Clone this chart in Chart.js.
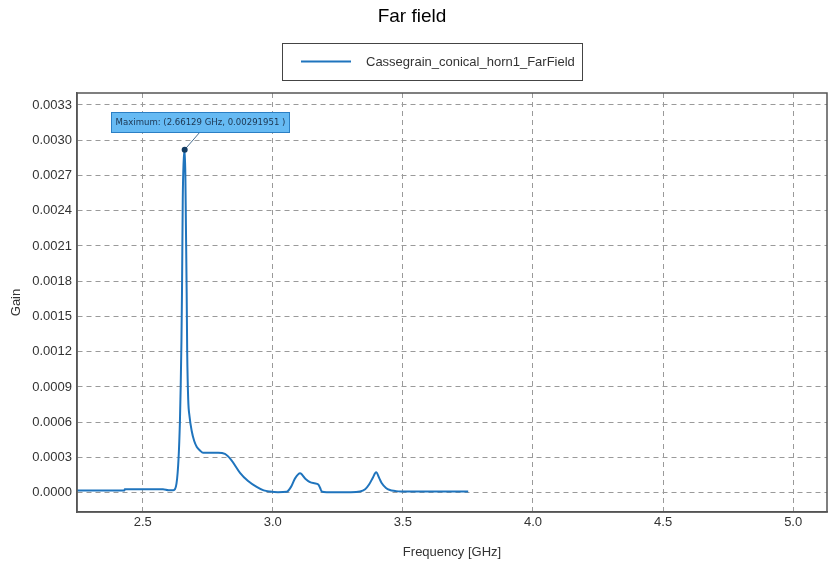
<!DOCTYPE html>
<html>
<head>
<meta charset="utf-8">
<title>Far field</title>
<script src="https://cdn.jsdelivr.net/npm/chart.js@4.4.0/dist/chart.umd.min.js"></script>
<style>
  html, body { margin: 0; padding: 0; background: #fff; }
  #wrap { width: 828px; height: 561px; }
</style>
</head>
<body>
<div id="wrap"><canvas id="farFieldChart" width="828" height="561"></canvas></div>
<script>
// Gain vs frequency of the horn far field
const seriesName = 'Cassegrain_conical_horn1_FarField';

const freqGHz = [
  2.2475, 2.43, 2.431, 2.578, 2.60, 2.618, 2.630, 2.638, 2.643, 2.646,
  2.649, 2.651, 2.654, 2.657, 2.66129, 2.664, 2.666, 2.669, 2.671, 2.675,
  2.68, 2.688, 2.698, 2.708, 2.72, 2.732, 2.76, 2.79, 2.816, 2.84,
  2.874, 2.905, 2.938, 2.965, 2.989, 3.02, 3.053, 3.07, 3.085, 3.105,
  3.125, 3.143, 3.16, 3.175, 3.182, 3.188, 3.207, 3.30, 3.335, 3.355,
  3.37, 3.385, 3.397, 3.41, 3.419, 3.435, 3.45, 3.47, 3.489, 3.6, 3.751
];

const gain = [
  0.00002, 0.00002, 0.00003, 0.00003, 0.000022, 0.000022, 0.00008, 0.0003, 0.0006, 0.0009,
  0.0013, 0.0017, 0.0025, 0.0028, 0.00291951, 0.0027, 0.0023, 0.0017, 0.0012, 0.00079,
  0.00065, 0.00053, 0.00044, 0.00039, 0.00036, 0.00034, 0.00034, 0.00034, 0.00033, 0.00028,
  0.00017, 0.0001, 0.00005, 0.00002, 0.00001, 0.000005, 0.000008, 0.00005, 0.00012, 0.000165,
  0.00012, 0.00009, 0.00008, 0.00007, 0.00004, 0.00001, 0.000005, 0.000005, 0.00001, 0.00003,
  0.00007, 0.00013, 0.000174, 0.00012, 0.00008, 0.00004, 0.000023, 0.000015, 0.00001, 0.00001, 0.00001
];

const xTicks = [2.5, 3.0, 3.5, 4.0, 4.5, 5.0];
const yTicks = [0, 0.0003, 0.0006, 0.0009, 0.0012, 0.0015, 0.0018, 0.0021, 0.0024, 0.0027, 0.0030, 0.0033];

const peakFreq = 2.66129;
const peakGain = 0.00291951;

const lineColor = '#1f74bd';
const textColor = '#333333';
const gridColor = '#9a9a9a';
const frameColor = '#555555';
const uiFont = '"Liberation Sans", Arial, sans-serif';

// Title, framed legend, plot frame and the maximum marker
const decorPlugin = {
  id: 'decor',
  afterDraw(chart) {
    const ctx = chart.ctx;
    const area = chart.chartArea;
    ctx.save();

    ctx.fillStyle = '#000';
    ctx.font = '19px ' + uiFont;
    ctx.textAlign = 'center';
    ctx.textBaseline = 'middle';
    ctx.fillText('Far field', 412, 17);

    ctx.fillStyle = '#fff';
    ctx.fillRect(282.5, 43.5, 300, 37);
    ctx.strokeStyle = '#444';
    ctx.lineWidth = 1;
    ctx.strokeRect(282.5, 43.5, 300, 37);
    ctx.strokeStyle = lineColor;
    ctx.lineWidth = 2;
    ctx.beginPath();
    ctx.moveTo(301, 61.5);
    ctx.lineTo(351, 61.5);
    ctx.stroke();
    ctx.fillStyle = textColor;
    ctx.font = '13px ' + uiFont;
    ctx.textAlign = 'left';
    ctx.fillText(seriesName, 366, 62);

    ctx.strokeStyle = frameColor;
    ctx.lineWidth = 1.5;
    ctx.strokeRect(area.left, area.top, area.right - area.left, area.bottom - area.top);

    const px = chart.scales.x.getPixelForValue(peakFreq);
    const py = chart.scales.y.getPixelForValue(peakGain);
    ctx.strokeStyle = '#4a6f8f';
    ctx.lineWidth = 1;
    ctx.beginPath();
    ctx.moveTo(px, py);
    ctx.lineTo(200, 132);
    ctx.stroke();

    ctx.fillStyle = '#66baf3';
    ctx.fillRect(111.5, 112.5, 178, 20);
    ctx.strokeStyle = '#2b7fc4';
    ctx.strokeRect(111.5, 112.5, 178, 20);

    // shrink the label font until it sits inside the box
    const label = 'Maximum: (' + peakFreq + ' GHz, ' + peakGain + ' )';
    ctx.font = '10px "DejaVu Sans", Tahoma, sans-serif';
    const size = Math.min(10, 10 * 170 / ctx.measureText(label).width);
    ctx.font = size.toFixed(2) + 'px "DejaVu Sans", Tahoma, sans-serif';
    ctx.fillStyle = '#1c3550';
    ctx.textAlign = 'center';
    ctx.fillText(label, 200.5, 123);

    ctx.fillStyle = '#123c63';
    ctx.beginPath();
    ctx.arc(px, py, 3, 0, Math.PI * 2);
    ctx.fill();
    ctx.restore();
  }
};

const ctx = document.getElementById('farFieldChart').getContext('2d');
new Chart(ctx, {
  type: 'line',
  data: {
    datasets: [{
      label: seriesName,
      data: freqGHz.map((f, i) => ({ x: f, y: gain[i] })),
      borderColor: lineColor,
      borderWidth: 2,
      pointRadius: 0,
      fill: false,
      cubicInterpolationMode: 'monotone'
    }]
  },
  options: {
    responsive: false,
    animation: false,
    layout: { padding: { top: 93, right: 1, left: 0, bottom: 0 } },
    plugins: {
      legend: { display: false },
      title: { display: false },
      tooltip: { enabled: false }
    },
    scales: {
      x: {
        type: 'linear',
        min: 2.2475,
        max: 5.13,
        afterFit: s => { s.height = 49; },
        afterBuildTicks: s => { s.ticks = xTicks.map(v => ({ value: v })); },
        ticks: {
          color: textColor,
          font: { family: uiFont, size: 13 },
          padding: 3,
          callback: v => v.toFixed(1)
        },
        grid: { color: gridColor, drawTicks: false },
        border: { color: frameColor, width: 1.5, dash: [5, 4] },
        title: {
          display: true,
          text: 'Frequency [GHz]',
          color: textColor,
          font: { family: uiFont, size: 13 },
          padding: { top: 0, bottom: 1 }
        }
      },
      y: {
        type: 'linear',
        min: -0.000164,
        max: 0.003402,
        afterFit: s => { s.width = 77; },
        afterBuildTicks: s => { s.ticks = yTicks.map(v => ({ value: v })); },
        ticks: {
          color: textColor,
          font: { family: uiFont, size: 13 },
          padding: 5,
          callback: v => v.toFixed(4)
        },
        grid: { color: gridColor, drawTicks: false },
        border: { color: frameColor, width: 1.5, dash: [5, 4] },
        title: {
          display: true,
          text: 'Gain',
          color: textColor,
          font: { family: uiFont, size: 13 },
          padding: { top: 9, bottom: 0 }
        }
      }
    }
  },
  plugins: [decorPlugin]
});
</script>
</body>
</html>
